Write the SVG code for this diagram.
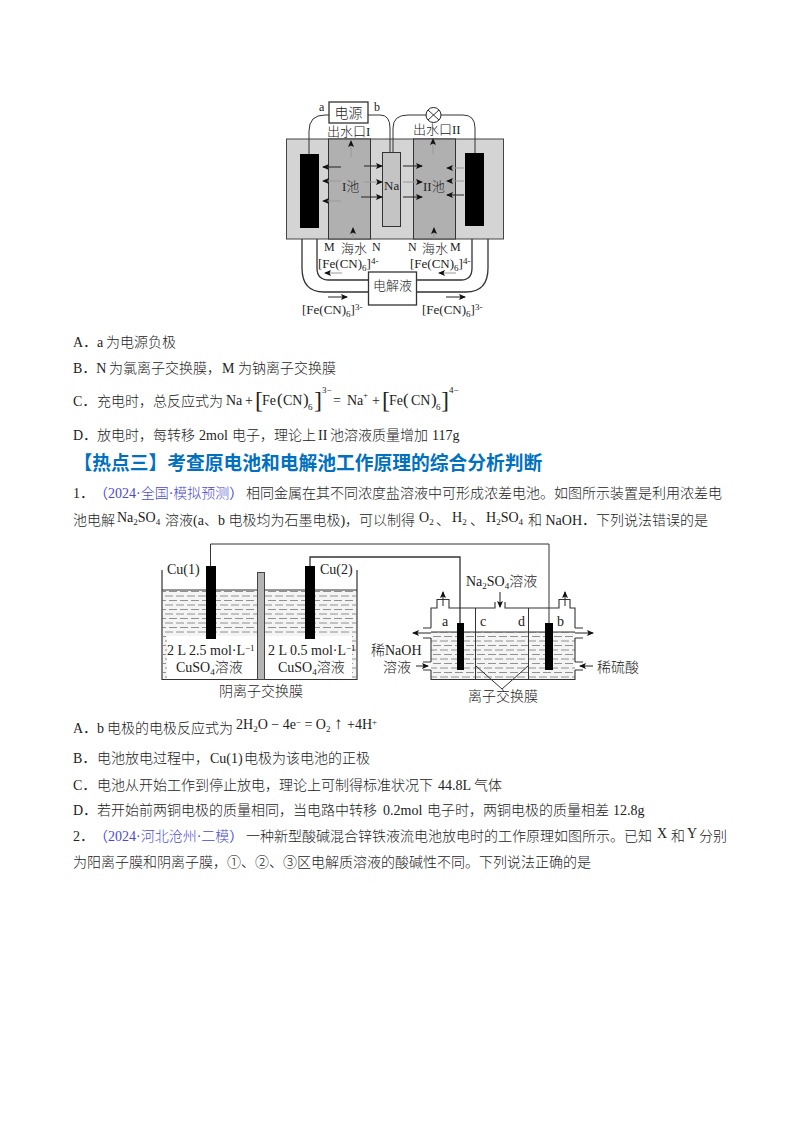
<svg xmlns="http://www.w3.org/2000/svg" width="800" height="1132" viewBox="0 0 800 1132">
<style>
text{font-family:"Liberation Serif","Noto Sans CJK SC",serif;fill:#222;font-size:14px}
.c{font-family:"Noto Sans CJK SC","Liberation Serif",sans-serif;font-weight:300}
.s{font-size:9px}
.lab{font-size:12px}
.m{font-size:13px}
.f{font-size:14px}
.blue{fill:#4a4ad0}
.ttl{font-family:"Noto Sans CJK SC",sans-serif;font-weight:700;font-size:18.75px;fill:#0070c0}
.l{fill:none;stroke:#333;stroke-width:1}
.t{fill:none;stroke:#333;stroke-width:1.3}
.a{fill:none;stroke:#222;stroke-width:1;marker-end:url(#ah)}
.g{fill:none;stroke:#999;stroke-width:1;marker-end:url(#ah)}
</style>
<defs>
<marker id="ah" markerWidth="7" markerHeight="6" refX="6" refY="3" orient="auto" markerUnits="userSpaceOnUse"><path d="M0 0L7 3L0 6L1.500 3Z" fill="#111"/></marker>
<pattern id="w" width="11" height="9" patternUnits="userSpaceOnUse"><rect width="11" height="9" fill="#f4f4f4"/><path d="M0 2H8M4 6.500H11M0 6.500H1" stroke="#777" stroke-width="0.800"/></pattern>
</defs>
<rect width="800" height="1132" fill="#fff"/>

<g id="fig1">
<rect id="cell" x="286.500" y="139" width="217" height="100" fill="#d4d4d4" stroke="#444"/>
<rect id="pool1" x="328.500" y="139" width="42" height="100" fill="#b0b0b0" stroke="#333"/>
<rect id="pool2" x="413.500" y="139" width="42" height="100" fill="#b0b0b0" stroke="#333"/>
<rect id="na" x="382.500" y="152.500" width="18" height="74" fill="#c4c4c4" stroke="#333"/>
<rect id="el1" x="300" y="154" width="19" height="74" fill="#000"/>
<rect id="el2" x="465" y="153" width="19" height="73" fill="#000"/>
<path class="l" d="M309 154V131Q309 115 325 115H329M368 115H380Q390 115 390 128V152M393 152V128Q393 115 408 115H426M441 115H463Q475 115 475 128V153"/>
<g id="power"><rect x="329" y="102" width="39" height="21" fill="#fff" stroke="#333" stroke-width="1.300"/><text class="c f" x="348.500" y="118" text-anchor="middle">电源</text></g>
<g id="lamp"><circle cx="433.500" cy="115" r="7.500" fill="#fff" stroke="#222"/><path class="l" d="M428 110L439 120M439 110L428 120"/></g>
<text class="lab" x="319" y="111">a</text><text class="lab" x="374" y="111">b</text>
<text class="m" x="327" y="136"><tspan class="c">出水口</tspan>I</text>
<text class="m" x="413" y="134"><tspan class="c">出水口</tspan>II</text>
<text class="m" x="342" y="191"><tspan>I</tspan><tspan class="c">池</tspan></text>
<text class="m" x="423" y="191"><tspan>II</tspan><tspan class="c">池</tspan></text>
<text class="m" x="384" y="190">Na</text>
<g id="arrows1">
<path class="g" d="M351 157V141"/><path class="g" d="M433 154V139"/>
<path class="a" d="M341 167H323"/><path class="g" d="M341 181H323"/><path class="g" d="M341 201H323"/>
<path class="a" d="M364 166H382"/><path class="g" d="M364 182H382"/><path class="a" d="M361 197H382"/>
<path class="a" d="M403 166H422"/><path class="g" d="M403 182H422"/><path class="a" d="M403 197H422"/>
<path class="g" d="M464 168H447"/><path class="g" d="M464 181H447"/><path class="a" d="M464 195H447"/>
<path class="g" d="M353 239V228"/><path class="g" d="M434 239V228"/>
</g>
<path class="t" d="M302 239V268Q302 292 324 292H368M317 239V268Q317 280 329 280H368M417 280H461Q472 280 472 268V239M417 292H466Q488 292 488 268V239"/>
<g id="electrolyte"><rect x="368.500" y="272" width="48" height="33" fill="#fff" stroke="#333" stroke-width="1.300"/><text class="c m" x="392.500" y="290" text-anchor="middle">电解液</text></g>
<text class="lab" x="324" y="251">M</text><text class="lab" x="372" y="251">N</text><text class="lab" x="408" y="251">N</text><text class="lab" x="450" y="251">M</text>
<text class="c m" x="341" y="253">海水</text><text class="c m" x="422" y="253">海水</text>
<text class="m" x="318" y="268">[Fe(CN)<tspan class="s" dy="3">6</tspan><tspan dy="-3">]</tspan><tspan class="s" dy="-4">4-</tspan></text>
<text class="m" x="410" y="268">[Fe(CN)<tspan class="s" dy="3">6</tspan><tspan dy="-3">]</tspan><tspan class="s" dy="-4">4-</tspan></text>
<text class="m" x="302" y="314">[Fe(CN)<tspan class="s" dy="3">6</tspan><tspan dy="-3">]</tspan><tspan class="s" dy="-4">3-</tspan></text>
<text class="m" x="422" y="314">[Fe(CN)<tspan class="s" dy="3">6</tspan><tspan dy="-3">]</tspan><tspan class="s" dy="-4">3-</tspan></text>
<path class="g" d="M342 273H325"/><path class="g" d="M456 273H439"/><path class="a" d="M328 297H347"/><path class="a" d="M446 297H465"/>
</g>

<g id="optionsA">
<text x="73" y="347">A．a<tspan class="c" x="106">为电源负极</tspan></text>
<text x="73" y="373">B．N<tspan class="c" x="109">为氯离子交换膜，</tspan><tspan x="222">M</tspan><tspan class="c" x="238">为钠离子交换膜</tspan></text>
<text x="73" y="406">C．<tspan class="c" x="97">充电时，总反应式为</tspan></text>
<text x="226" y="405">Na</text><text x="245" y="405">+</text><text x="255" y="408" style="font-size:24px">[</text><text x="262" y="405">Fe</text><text x="277" y="405" style="font-size:17px">(</text><text x="283" y="405">CN</text><text x="303" y="405" style="font-size:17px">)</text><text class="s" x="308" y="410">6</text><text x="314" y="408" style="font-size:24px">]</text><text class="s" x="322" y="393">3−</text><text x="333" y="405">=</text><text x="347" y="405">Na</text><text class="s" x="363" y="398">+</text><text x="372" y="405">+</text><text x="382" y="408" style="font-size:24px">[</text><text x="389" y="405">Fe</text><text x="403" y="405" style="font-size:17px">(</text><text x="411" y="405">CN</text><text x="431" y="405" style="font-size:17px">)</text><text class="s" x="436" y="410">6</text><text x="441" y="408" style="font-size:24px">]</text><text class="s" x="449" y="393">4−</text>
<text x="73" y="440">D．<tspan class="c" x="97">放电时，每转移</tspan><tspan x="199">2mol</tspan><tspan class="c" x="232">电子，理论上</tspan><tspan x="318">II</tspan><tspan class="c" x="330">池溶液质量增加</tspan><tspan x="432">117g</tspan></text>
</g>
<text class="ttl" x="73.500" y="470">【热点三】考查原电池和电解池工作原理的综合分析判断</text>

<g id="q1">
<text x="73" y="498">1．</text><text class="blue" x="94" y="498">（2024·<tspan class="c">全国</tspan>·<tspan class="c">模拟预测</tspan>）</text>
<text class="c" x="246" y="498">相同金属在其不同浓度盐溶液中可形成浓差电池。如图所示装置是利用浓差电</text>
<text class="c" x="73" y="525">池电解</text>
<text x="117" y="522">Na<tspan class="s" dy="3">2</tspan><tspan dy="-3">SO</tspan><tspan class="s" dy="3">4</tspan></text>
<text x="165" y="525"><tspan class="c">溶液</tspan>(a<tspan class="c">、</tspan>b <tspan class="c">电极均为石墨电极</tspan>)<tspan class="c">，可以制得</tspan></text>
<text x="419" y="522">O<tspan class="s" dy="3">2</tspan></text><text class="c" x="436" y="525">、</text>
<text x="452" y="522">H<tspan class="s" dy="3">2</tspan></text><text class="c" x="470" y="525">、</text>
<text x="486" y="522">H<tspan class="s" dy="3">2</tspan><tspan dy="-3">SO</tspan><tspan class="s" dy="3">4</tspan></text>
<text x="528" y="525"><tspan class="c">和</tspan> NaOH．<tspan class="c">下列说法错误的是</tspan></text>
</g>

<g id="fig2">
<path class="l" d="M210.500 566V544H549V623"/>
<path class="t" d="M310 566V557H460V623"/>
<rect x="162.500" y="590" width="194" height="46" fill="url(#w)"/>
<rect x="163" y="636" width="4" height="43" fill="url(#w)"/><rect x="352" y="636" width="4" height="43" fill="url(#w)"/>
<path d="M162 590H357" stroke="#333"/>
<path d="M162 570V679.500H357V570" fill="none" stroke="#333" stroke-width="1.200"/>
<rect x="257.500" y="572.500" width="7" height="107" fill="#b4b4b4" stroke="#444"/>
<rect x="206" y="566" width="10" height="73" fill="#000"/><rect x="305" y="566" width="10" height="73" fill="#000"/>
<text x="167" y="574">Cu(1)</text><text x="320" y="574">Cu(2)</text>
<text x="167" y="655">2 L 2.5 mol·L<tspan class="s" dy="-4">−1</tspan></text>
<text x="268" y="655">2 L 0.5 mol·L<tspan class="s" dy="-4">−1</tspan></text>
<text x="176" y="672">CuSO<tspan class="s" dy="3">4</tspan><tspan class="c" dy="-3">溶液</tspan></text>
<text x="278" y="672">CuSO<tspan class="s" dy="3">4</tspan><tspan class="c" dy="-3">溶液</tspan></text>
<text class="c" x="219" y="696">阴离子交换膜</text>

<rect x="431" y="632" width="144" height="47" fill="url(#w)"/>
<path d="M431 632H575" stroke="#333"/>
<path d="M431 628V608H437V599.500H449V608H495V602M505 602V608H559V599.500H570V608H575V628M431 638V662M431 670V679.500H575V670M575 662V638M423 628H431M423 638H431M423 662H431M423 670H431M575 628H583M575 638H583M575 662H583M575 670H583" fill="none" stroke="#333" stroke-width="1.100"/>
<path class="l" d="M475.500 608V679M528.500 608V679"/>
<path class="l" d="M476 666L502 689L528 666"/>
<rect x="457" y="623" width="7" height="47" fill="#000"/><rect x="545" y="623" width="8" height="47" fill="#000"/>
<path class="a" d="M443 606V592"/><path class="a" d="M565 606V592"/><path class="a" d="M500 592V607"/>
<path class="a" d="M431 633H413"/><path class="a" d="M575 633H593"/><path class="a" d="M416 666H428"/><path class="a" d="M593 666H580"/>
<text x="466" y="586">Na<tspan class="s" dy="3">2</tspan><tspan dy="-3">SO</tspan><tspan class="s" dy="3">4</tspan><tspan class="c" dy="-3">溶液</tspan></text>
<text x="442" y="626">a</text><text x="480" y="626">c</text><text x="518" y="626">d</text><text x="557" y="626">b</text>
<text x="371" y="655"><tspan class="c">稀</tspan>NaOH</text>
<text class="c" x="383" y="672">溶液</text>
<text class="c" x="597" y="672">稀硫酸</text>
<text class="c" x="468" y="701">离子交换膜</text>
</g>

<g id="q1opts">
<text x="73" y="733">A．b<tspan class="c" x="107">电极的电极反应式为</tspan></text>
<text x="236" y="729">2H<tspan class="s" dy="3">2</tspan><tspan dy="-3">O − 4e</tspan><tspan class="s" dy="-4">−</tspan><tspan dy="4"> = O</tspan><tspan class="s" dy="3">2</tspan></text>
<text x="334" y="729" style="font-size:17px">↑</text><text x="347" y="729">+4H<tspan class="s" dy="-4">+</tspan></text>
<text x="73" y="763">B．<tspan class="c" x="97">电池放电过程中，</tspan><tspan x="210">Cu(1)</tspan><tspan class="c" x="244">电极为该电池的正极</tspan></text>
<text x="73" y="790">C．<tspan class="c" x="97">电池从开始工作到停止放电，理论上可制得标准状况下</tspan><tspan x="438">44.8L</tspan><tspan class="c" x="474">气体</tspan></text>
<text x="73" y="815">D．<tspan class="c" x="97">若开始前两铜电极的质量相同，当电路中转移</tspan><tspan x="383">0.2mol</tspan><tspan class="c" x="427">电子时，两铜电极的质量相差</tspan><tspan x="613">12.8g</tspan></text>
</g>
<g id="q2">
<text x="73" y="841">2．</text><text class="blue" x="94" y="841">（2024·<tspan class="c">河北沧州</tspan>·<tspan class="c">二模</tspan>）</text>
<text class="c" x="246" y="841">一种新型酸碱混合锌铁液流电池放电时的工作原理如图所示。已知</text>
<text x="657" y="838">X</text><text class="c" x="671" y="841">和</text><text x="687" y="838">Y</text><text class="c" x="699" y="841">分别</text>
<text class="c" x="73" y="867">为阳离子膜和阴离子膜，①、②、③区电解质溶液的酸碱性不同。下列说法正确的是</text>
</g>
</svg>
